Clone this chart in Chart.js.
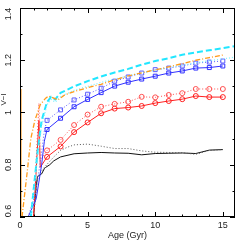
<!DOCTYPE html>
<html>
<head>
<meta charset="utf-8">
<script src="https://cdn.jsdelivr.net/npm/chart.js@4.4.1/dist/chart.umd.min.js"></script>
<style>
  html, body { margin: 0; padding: 0; background: #fff; }
  #wrap { width: 240px; height: 240px; }
</style>
</head>
<body>
<div id="wrap"><canvas id="chart" width="240" height="240"></canvas></div>
<script>
const blackAges   = [1.0, 1.1, 1.2, 1.3, 1.6, 1.8, 1.9, 2.2, 2.5, 3, 4, 5, 6, 7, 8, 9, 10, 11, 12, 13, 14, 15];
const blackSolid  = [0.60, 0.66, 0.72, 0.755, 0.765, 0.785, 0.79, 0.80, 0.815, 0.83, 0.842, 0.845, 0.847, 0.845, 0.844, 0.838, 0.843, 0.844, 0.845, 0.843, 0.856, 0.858];
const grayAges    = [1.0, 1.3, 1.8, 2.5, 3, 3.5, 4, 5, 6, 7, 8, 9, 10, 11, 12, 13, 14, 15];
const grayDotted  = [0.60, 0.755, 0.79, 0.83, 0.855, 0.867, 0.876, 0.879, 0.871, 0.862, 0.862, 0.853, 0.848, 0.847, 0.846, 0.840, 0.855, 0.858];

const redAges     = [1.0, 1.2, 1.4, 1.5, 2, 3, 4, 5, 6, 7, 8, 9, 10, 11, 12, 13, 14, 15];
const redSolid    = [0.60, 0.78, 0.97, 0.79, 0.83, 0.87, 0.925, 0.962, 0.997, 1.015, 1.019, 1.025, 1.036, 1.044, 1.051, 1.063, 1.059, 1.059];
const redDotted   = [0.60, 0.82, 1.035, 0.815, 0.855, 0.895, 0.952, 0.992, 1.022, 1.033, 1.041, 1.060, 1.058, 1.067, 1.074, 1.090, 1.090, 1.090];

const blueAges    = [0.6, 1.2, 1.6, 1.8, 2, 3, 4, 5, 6, 7, 8, 9, 10, 11, 12, 13, 14, 15];
const blueSolid   = [0.60, 0.67, 0.80, 0.89, 0.935, 0.978, 1.022, 1.05, 1.076, 1.101, 1.116, 1.128, 1.139, 1.151, 1.159, 1.170, 1.172, 1.178];
const blueDotted  = [0.60, 0.70, 0.85, 0.93, 0.97, 1.01, 1.048, 1.07, 1.093, 1.12, 1.136, 1.151, 1.164, 1.170, 1.178, 1.189, 1.193, 1.197];

const cyanAges    = [0.8, 1.0, 1.3, 1.6, 2.0, 2.3, 2.6, 3, 4, 5, 6, 7, 8, 9, 10, 11, 12, 13, 14, 15, 15.9];
const cyanDashed  = [0.60, 0.70, 0.85, 0.97, 1.04, 1.06, 1.05, 1.075, 1.10, 1.12, 1.138, 1.153, 1.167, 1.183, 1.197, 1.208, 1.221, 1.230, 1.238, 1.246, 1.254];
const cyanDotted  = [0.60, 0.69, 0.83, 0.95, 1.03, 1.05, 1.04, 1.06, 1.085, 1.10, 1.115, 1.128, 1.14, 1.152, 1.162, 1.172, 1.181, 1.19, 1.198, 1.205, 1.212];

const orangeAges  = [0.15, 0.55, 0.8, 1.1, 1.5, 1.9, 2.1, 2.5, 2.8, 3.3, 4, 5, 6, 7, 8, 9, 10, 11, 12, 13, 14, 15];
const orangeDash  = [0.60, 0.78, 0.90, 0.97, 1.03, 1.055, 1.063, 1.055, 1.048, 1.067, 1.08, 1.095, 1.108, 1.125, 1.14, 1.152, 1.163, 1.175, 1.187, 1.20, 1.21, 1.22];
const orangeYoungAges = [0.03, 0.05, 0.07];
const orangeYoung     = [0.60, 0.85, 1.09];

const xTickLabels = [0, 5, 10, 15];
const yTickLabels = [0.6, 0.8, 1, 1.2, 1.4];

function puntos(ages, vals) {
    return ages.map((a, i) => ({ x: a, y: vals[i] }));
}

// marcadores solo en edades enteras desde 2 Gyr
const conMarca = r => (c) => (c.raw && c.raw.x >= 2 && Number.isInteger(c.raw.x) ? r : 0);

function serie(ages, vals, color, extra) {
    return Object.assign({
        data: puntos(ages, vals),
        showLine: true,
        borderColor: color,
        backgroundColor: 'rgba(0,0,0,0)',
        borderWidth: 1,
        pointRadius: 0,
        pointBorderColor: color,
        pointBackgroundColor: 'rgba(0,0,0,0)',
        pointBorderWidth: 1,
        tension: 0
    }, extra || {});
}

const datasets = [
    serie(orangeYoungAges, orangeYoung, '#ff9a1a', { borderWidth: 1.5 }),
    serie(orangeAges, orangeDash, '#ff9a1a', { borderDash: [5, 2, 1, 2], borderWidth: 1.3 }),
    serie(cyanAges, cyanDotted, '#7ff0ff', { borderDash: [1, 2], borderWidth: 1.3 }),
    serie(cyanAges, cyanDashed, '#22e6ff', { borderDash: [6, 3], borderWidth: 2 }),
    serie(blueAges, blueDotted, '#5a5aff', { borderDash: [1, 2], pointStyle: 'rect', pointRadius: conMarca(2.8) }),
    serie(blueAges, blueSolid, '#3030ff', { pointStyle: 'rect', pointRadius: conMarca(2.8) }),
    serie(redAges, redDotted, '#ff5050', { borderDash: [1, 2], pointStyle: 'circle', pointRadius: conMarca(2.5) }),
    serie(redAges, redSolid, '#ff2020', { pointStyle: 'circle', pointRadius: conMarca(2.5) }),
    serie(grayAges, grayDotted, '#555', { borderDash: [1, 2] }),
    serie(blackAges, blackSolid, '#111')
];

// marco con ticks hacia adentro y etiquetas
const marco = {
    id: 'marco',
    afterDatasetsDraw(chart) {
        const { ctx, chartArea: a, scales: { x, y } } = chart;
        ctx.save();
        ctx.strokeStyle = '#000';
        ctx.lineWidth = 1;
        ctx.strokeRect(a.left + 0.5, a.top + 0.5, a.right - a.left - 1, a.bottom - a.top - 1);

        const seg = (x1, y1, x2, y2) => { ctx.beginPath(); ctx.moveTo(x1, y1); ctx.lineTo(x2, y2); ctx.stroke(); };

        for (let v = 0; v <= 15; v++) {
            const px = Math.round(x.getPixelForValue(v)) + 0.5;
            const len = v % 5 === 0 ? 5 : 2.5;
            seg(px, a.bottom, px, a.bottom - len);
            seg(px, a.top, px, a.top + len);
        }
        for (let i = 0; i <= 8; i++) {
            const py = Math.round(y.getPixelForValue(0.6 + 0.1 * i)) + 0.5;
            const len = i % 2 === 0 ? 5 : 2.5;
            seg(a.left, py, a.left + len, py);
            seg(a.right, py, a.right - len, py);
        }

        ctx.fillStyle = '#222';
        ctx.font = '9px "Liberation Sans", Arial, sans-serif';
        ctx.textAlign = 'center';
        ctx.textBaseline = 'top';
        xTickLabels.forEach(v => {
            ctx.fillText(String(v), x.getPixelForValue(v), a.bottom + 4);
        });
        ctx.fillText('Age (Gyr)', (a.left + a.right) / 2, a.bottom + 14);

        ctx.textBaseline = 'middle';
        yTickLabels.forEach(v => {
            let py = y.getPixelForValue(v);
            py = Math.min(Math.max(py, a.top + 6), a.bottom - 6);
            ctx.save();
            ctx.translate(a.left - 11, py);
            ctx.rotate(-Math.PI / 2);
            ctx.fillText(String(v), 0, 0);
            ctx.restore();
        });
        ctx.font = '8px "Liberation Sans", Arial, sans-serif';
        ctx.save();
        ctx.translate(4, y.getPixelForValue(1.05));
        ctx.rotate(-Math.PI / 2);
        ctx.fillText('V\u2212I', 0, 0);
        ctx.restore();

        ctx.restore();
    }
};

new Chart(document.getElementById('chart').getContext('2d'), {
    type: 'scatter',
    data: { datasets },
    options: {
        responsive: false,
        animation: false,
        layout: { padding: { left: 20, top: 8, right: 2, bottom: 23 } },
        scales: {
            x: { type: 'linear', min: 0, max: 15.9, display: false },
            y: { type: 'linear', min: 0.6, max: 1.4, display: false }
        },
        plugins: {
            legend: { display: false },
            tooltip: { enabled: false }
        }
    },
    plugins: [marco]
});
</script>
</body>
</html>
